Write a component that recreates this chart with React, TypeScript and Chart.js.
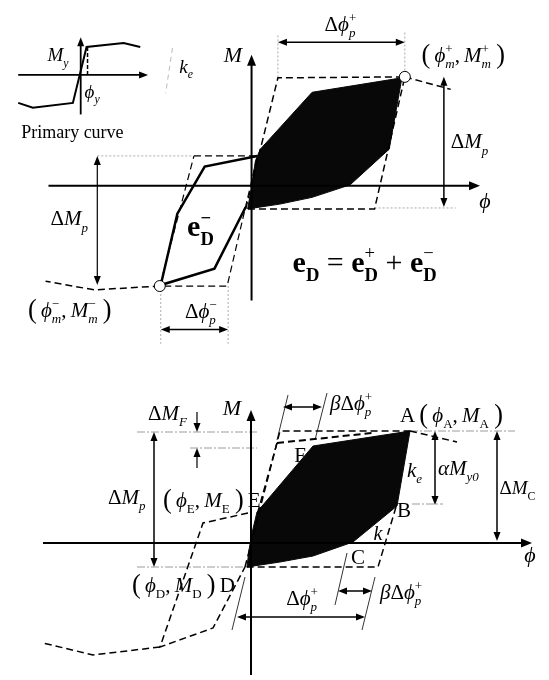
import React, { useEffect, useRef } from "react";
import { Chart, registerables } from "chart.js";
Chart.register(...registerables);

const FONT = '"Liberation Serif", "DejaVu Serif", serif';
type P = [number, number];

// shared horizontal range (phi units)
const X_MIN = -25.1;
const X_MAX = 29.8;

// ---------- TOP PANEL DATA ----------
const topLoopPositive: P[] = [[-0.4, -2.4], [-0.1, -0.7], [0.1, 0.6], [0.4, 2.6], [0.9, 3.8], [6.2, 9.7], [15.4, 11.2], [14.1, 3.8], [10.1, 0.1], [6.2, -1.2], [2.9, -1.9], [-0.4, -2.4]];
const topLoopNegative: P[] = [[0.6, 3.1], [-4.8, 2.0], [-7.6, -2.9], [-9.3, -10.3], [-3.8, -8.6], [-0.6, -2.2]];
const topPeakPoints: P[] = [[15.7, 11.3], [-9.4, -10.4]];
const topBoundPositive: P[] = [[-0.6, -2.4], [2.7, 11.2], [15.7, 11.3], [12.6, -2.4], [-0.6, -2.4]];
const topBoundNegative: P[] = [[-5.9, 3.1], [0.6, 3.1], [-2.5, -10.4], [-9.4, -10.4], [-5.9, 3.1]];
const topPrimaryRight: P[] = [[15.7, 11.3], [20.4, 10.0]];
const topPrimaryLeft: P[] = [[-9.4, -10.4], [-16.1, -10.8], [-21.1, -9.9]];
const topGuides: P[][] = [
  [[-15.8, 3.1], [-6.1, 3.1]],
  [[15.7, 15.9], [15.7, 11.3]],
  [[2.7, 15.6], [2.7, 11.2]],
  [[12.6, -2.3], [20.9, -2.3]],
  [[-9.3, -10.4], [-9.3, -16.4]],
  [[-2.4, -10.4], [-2.4, -16.4]],
];
const insetCurve: P[] = [[-23.9, 8.6], [-22.4, 8.1], [-18.3, 8.6], [-16.9, 14.4], [-13.1, 14.8], [-11.4, 14.4]];
const insetYield: P[] = [[-16.8, 14.4], [-16.8, 11.5]];
const insetKe: P[] = [[-8.1, 14.3], [-8.8, 9.6]];

// arrows: x1, y1, x2, y2, heads (1 end, 2 both), width
const topArrows: number[][] = [
  [-20.8, 0, 23.4, 0, 1, 2],
  [0, -11.9, 0, 13.6, 1, 2],
  [-23.9, 11.5, -10.6, 11.5, 1, 1.8],
  [-17.5, 7.4, -17.5, 15.4, 1, 1.8],
  [2.7, 14.9, 15.7, 14.9, 2, 1.5],
  [19.7, 11.3, 19.7, -2.2, 2, 1.5],
  [-15.8, 3.1, -15.8, -10.3, 2, 1.2],
  [-9.3, -14.9, -2.4, -14.9, 2, 1.5],
];

type Seg = [string, string];
type Label = { x: number; y: number; size: number; align: "left" | "center"; segs: Seg[] };

const topLabels: Label[] = [
  { x: -1.9, y: 13.6, size: 22, align: "center", segs: [["M", "i"]] },
  { x: 23.9, y: -1.6, size: 22, align: "center", segs: [["ϕ", "i"]] },
  { x: 9.1, y: 16.8, size: 21, align: "center", segs: [["Δ", "r"], ["ϕ", "i"], ["+", "r^|"], ["p", "i_"]] },
  { x: 17.4, y: 13.6, size: 21, align: "left", segs: [["(", "rL"], ["\u2009ϕ", "i"], ["+", "r^|"], ["m", "i_"], [",\u2009", "r"], ["M", "i"], ["+", "r^|"], ["m", "i_"], ["\u2009)", "rL"]] },
  { x: 20.4, y: 4.6, size: 21, align: "left", segs: [["Δ", "r"], ["M", "i"], ["p", "i_"]] },
  { x: -20.6, y: -3.4, size: 21, align: "left", segs: [["Δ", "r"], ["M", "i"], ["p", "i_"]] },
  { x: -22.9, y: -12.9, size: 21, align: "left", segs: [["(", "rL"], ["\u2009ϕ", "i"], ["−", "r^|"], ["m", "i_"], [",\u2009", "r"], ["M", "i"], ["−", "r^|"], ["m", "i_"], ["\u2009)", "rL"]] },
  { x: -5.2, y: -13.0, size: 21, align: "center", segs: [["Δ", "r"], ["ϕ", "i"], ["−", "r^|"], ["p", "i_"]] },
  { x: -6.6, y: -4.2, size: 30, align: "left", segs: [["e", "b"], ["−", "b^|"], ["D", "b_"]] },
  { x: 4.2, y: -7.9, size: 30, align: "left", segs: [["e", "b"], ["D", "b_"], [" = ", "r"], ["e", "b"], ["+", "r^|"], ["D", "b_"], [" + ", "r"], ["e", "b"], ["−", "r^|"], ["D", "b_"]] },
  { x: -20.9, y: 13.6, size: 19, align: "left", segs: [["M", "i"], ["y", "i_"]] },
  { x: -17.1, y: 9.8, size: 19, align: "left", segs: [["ϕ", "i"], ["y", "i_"]] },
  { x: -7.4, y: 12.4, size: 19, align: "left", segs: [["k", "i"], ["e", "i_"]] },
  { x: -23.6, y: 5.6, size: 18, align: "left", segs: [["Primary curve", "r"]] },
];

// ---------- BOTTOM PANEL DATA ----------
const botLoop: P[] = [[-0.4, -2.4], [-0.2, -0.7], [0.1, 1.0], [0.6, 3.1], [6.2, 9.7], [15.9, 11.2], [14.6, 3.7], [10.2, 0.1], [6.2, -1.3], [2.9, -1.9], [-0.4, -2.4]];
const botBoundUpper: P[] = [[-0.6, -2.4], [2.9, 11.2], [15.9, 11.2]];
const botBoundLower: P[] = [[14.5, 3.6], [12.7, -2.4], [-0.6, -2.4]];
const botReducedTop: P[] = [[2.6, 10.0], [12.1, 11.0]];
const botReducedSide: P[] = [[2.6, 10.0], [0.6, 2.8]];
const botNegative: P[] = [[-0.3, 3.0], [-4.8, 2.0], [-9.1, -10.4], [-3.8, -8.5], [-0.6, -2.4]];
const botPrimaryLeft: P[] = [[-9.1, -10.4], [-15.8, -11.2], [-20.8, -10.0]];
const botPrimaryRight: P[] = [[15.9, 11.2], [20.6, 10.1]];
const botGuides: P[][] = [
  [[-11.4, 11.1], [0.6, 11.1]],
  [[-6.1, 9.5], [0.6, 9.5]],
  [[15.9, 11.2], [26.4, 11.2]],
  [[16.1, 3.9], [19.2, 3.9]],
  [[-11.4, -2.4], [-0.6, -2.4]],
];
const botThin: P[][] = [
  [[3.7, 14.8], [2.6, 10.3]],
  [[7.6, 15.0], [6.4, 10.3]],
  [[9.6, -1.0], [8.4, -6.2]],
  [[12.4, -3.4], [11.1, -8.7]],
  [[-0.6, -3.4], [-1.9, -8.7]],
];
const botArrows: number[][] = [
  [-20.8, 0, 28.1, 0, 1, 2],
  [0, -13.2, 0, 13.3, 1, 2],
  [3.2, 13.6, 7.1, 13.6, 2, 1.5],
  [-5.4, 13.1, -5.4, 11.1, 1, 1.2],
  [-5.4, 7.5, -5.4, 9.5, 1, 1.2],
  [-9.7, 11.1, -9.7, -2.4, 2, 1.5],
  [18.4, 11.2, 18.4, 3.8, 2, 1.5],
  [24.6, 11.2, 24.6, 0.2, 2, 1.5],
  [-1.4, -7.4, 11.4, -7.4, 2, 1.5],
  [8.7, -4.8, 12.1, -4.8, 2, 1.5],
];
const botLabels: Label[] = [
  { x: -1.9, y: 13.5, size: 22, align: "center", segs: [["M", "i"]] },
  { x: 27.9, y: -1.2, size: 22, align: "center", segs: [["ϕ", "i"]] },
  { x: 7.9, y: 14.0, size: 21, align: "left", segs: [["β", "i"], ["Δ", "r"], ["ϕ", "i"], ["+", "r^|"], ["p", "i_"]] },
  { x: 14.9, y: 12.8, size: 21, align: "left", segs: [["A\u2009", "r"], ["(", "rL"], ["\u2009ϕ", "i"], ["A", "r_"], [",\u2009", "r"], ["M", "i"], ["A", "r_"], ["\u2009)", "rL"]] },
  { x: 4.9, y: 8.8, size: 21, align: "center", segs: [["F", "r"]] },
  { x: 15.6, y: 7.3, size: 21, align: "left", segs: [["k", "i"], ["e", "i_"]] },
  { x: 18.7, y: 7.5, size: 21, align: "left", segs: [["α", "i"], ["M", "i"], ["y0", "i_"]] },
  { x: 24.85, y: 5.5, size: 19, align: "left", segs: [["Δ", "r"], ["M", "i"], ["C", "r_"]] },
  { x: 15.3, y: 3.3, size: 21, align: "center", segs: [["B", "r"]] },
  { x: 12.7, y: 1.0, size: 20, align: "center", segs: [["k", "i"]] },
  { x: 10.7, y: -1.4, size: 21, align: "center", segs: [["C", "r"]] },
  { x: 12.9, y: -4.9, size: 21, align: "left", segs: [["β", "i"], ["Δ", "r"], ["ϕ", "i"], ["+", "r^|"], ["p", "i_"]] },
  { x: 5.1, y: -5.5, size: 21, align: "center", segs: [["Δ", "r"], ["ϕ", "i"], ["+", "r^|"], ["p", "i_"]] },
  { x: -11.9, y: -4.2, size: 21, align: "left", segs: [["(", "rL"], ["\u2009ϕ", "i"], ["D", "r_"], [",\u2009", "r"], ["M", "i"], ["D", "r_"], ["\u2009)", "rL"], ["\u2009D", "r"]] },
  { x: -8.8, y: 4.3, size: 21, align: "left", segs: [["(", "rL"], ["\u2009ϕ", "i"], ["E", "r_"], [",\u2009", "r"], ["M", "i"], ["E", "r_"], ["\u2009)", "rL"], ["\u2009E", "r"]] },
  { x: -14.3, y: 4.6, size: 21, align: "left", segs: [["Δ", "r"], ["M", "i"], ["p", "i_"]] },
  { x: -10.3, y: 13.0, size: 21, align: "left", segs: [["Δ", "r"], ["M", "i"], ["F", "i_"]] },
];

// ---------- helpers ----------
const pts = (a: P[]) => a.map(([x, y]) => ({ x, y }));
const DASH = [7, 4];
const line = (a: P[], o: any = {}) => ({
  data: pts(a),
  showLine: true,
  pointRadius: 0,
  borderColor: "#000",
  borderWidth: 1.5,
  tension: 0,
  fill: false,
  ...o,
});

function drawRich(ctx: CanvasRenderingContext2D, segs: Seg[], x: number, y: number, size: number, align: string) {
  const items = segs.map(([t, s]) => {
    const f = s[0];
    const sub = s.includes("_"), sup = s.includes("^"), stack = s.includes("|"), big = s.includes("L");
    const sz = sub || sup ? size * 0.62 : big ? size * 1.25 : size;
    const font = `${f === "i" ? "italic " : ""}${f === "b" ? "bold " : ""}${sz}px ${FONT}`;
    ctx.font = font;
    const w = ctx.measureText(t).width;
    const dy = sub ? size * 0.3 : sup ? -size * 0.42 : big ? size * 0.06 : 0;
    return { t, font, w, dy, stack };
  });
  let total = 0;
  for (let i = 0; i < items.length; i++) {
    if (items[i].stack && i + 1 < items.length) {
      total += Math.max(items[i].w, items[i + 1].w);
      i++;
    } else total += items[i].w;
  }
  let cx = align === "center" ? x - total / 2 : x;
  const base = y + size * 0.33;
  ctx.textBaseline = "alphabetic";
  ctx.textAlign = "left";
  ctx.fillStyle = "#000";
  for (let i = 0; i < items.length; i++) {
    const it = items[i];
    if (it.stack && i + 1 < items.length) {
      const nx = items[i + 1];
      ctx.font = it.font;
      ctx.fillText(it.t, cx, base + it.dy);
      ctx.font = nx.font;
      ctx.fillText(nx.t, cx, base + nx.dy);
      cx += Math.max(it.w, nx.w);
      i++;
    } else {
      ctx.font = it.font;
      ctx.fillText(it.t, cx, base + it.dy);
      cx += it.w;
    }
  }
}

function head(ctx: CanvasRenderingContext2D, x: number, y: number, ang: number, len: number, hw: number) {
  ctx.beginPath();
  ctx.moveTo(x, y);
  ctx.lineTo(x - len * Math.cos(ang) + hw * Math.sin(ang), y - len * Math.sin(ang) - hw * Math.cos(ang));
  ctx.lineTo(x - len * Math.cos(ang) - hw * Math.sin(ang), y - len * Math.sin(ang) + hw * Math.cos(ang));
  ctx.closePath();
  ctx.fill();
}

const overlay = (arrows: number[][], labels: Label[]) => ({
  id: "overlay",
  afterDatasetsDraw(chart: any) {
    const { ctx, scales } = chart;
    const X = (v: number) => scales.x.getPixelForValue(v);
    const Y = (v: number) => scales.y.getPixelForValue(v);
    ctx.save();
    ctx.strokeStyle = "#000";
    ctx.fillStyle = "#000";
    for (const [x1, y1, x2, y2, h, w] of arrows) {
      const px1 = X(x1), py1 = Y(y1), px2 = X(x2), py2 = Y(y2);
      const ang = Math.atan2(py2 - py1, px2 - px1);
      const len = w >= 2 ? 11 : 9;
      const hw = w >= 2 ? 4.5 : 3.5;
      ctx.lineWidth = w;
      ctx.setLineDash([]);
      ctx.beginPath();
      ctx.moveTo(px1 + (h === 2 ? Math.cos(ang) * len * 0.8 : 0), py1 + (h === 2 ? Math.sin(ang) * len * 0.8 : 0));
      ctx.lineTo(px2 - Math.cos(ang) * len * 0.8, py2 - Math.sin(ang) * len * 0.8);
      ctx.stroke();
      head(ctx, px2, py2, ang, len, hw);
      if (h === 2) head(ctx, px1, py1, ang + Math.PI, len, hw);
    }
    for (const l of labels) drawRich(ctx, l.segs, X(l.x), Y(l.y), l.size, l.align);
    ctx.restore();
  },
});

function Panel(props: { height: number; yMin: number; yMax: number; datasets: any[]; arrows: number[][]; labels: Label[] }) {
  const ref = useRef<HTMLCanvasElement>(null);
  useEffect(() => {
    const chart = new Chart(ref.current as HTMLCanvasElement, {
      type: "scatter",
      data: { datasets: props.datasets },
      options: {
        animation: false,
        responsive: false,
        events: [],
        layout: { padding: 0 },
        scales: {
          x: { type: "linear", min: X_MIN, max: X_MAX, display: false },
          y: { type: "linear", min: props.yMin, max: props.yMax, display: false },
        },
        plugins: { legend: { display: false }, tooltip: { enabled: false } },
      } as any,
      plugins: [overlay(props.arrows, props.labels)],
    });
    return () => chart.destroy();
  }, []);
  return <canvas ref={ref} width={549} height={props.height} style={{ display: "block" }} />;
}

const GUIDE = { borderColor: "#9c9c9c", borderWidth: 1, borderDash: [8, 2, 2, 2] };

export default function App() {
  useEffect(() => {
    document.body.style.margin = "0";
    document.body.style.background = "#fff";
  }, []);
  const topDatasets = [
    { data: pts(topPeakPoints), showLine: false, pointRadius: 5.5, pointBackgroundColor: "#fff", pointBorderColor: "#000", pointBorderWidth: 1 },
    line(topLoopNegative, { borderWidth: 2.5 }),
    line(insetCurve, { borderWidth: 2 }),
    line(insetYield, { borderDash: [4, 2], borderWidth: 1.5 }),
    line(insetKe, { borderDash: [5, 4], borderWidth: 1, borderColor: "#bbb" }),
    line(topPrimaryRight, { borderDash: DASH }),
    line(topPrimaryLeft, { borderDash: DASH }),
    line(topBoundPositive, { borderDash: DASH }),
    line(topBoundNegative, { borderDash: DASH, borderWidth: 1.2 }),
    ...topGuides.map((g) => line(g, { borderColor: "#aaa", borderWidth: 1, borderDash: [2, 2] })),
    line(topLoopPositive, { fill: "shape", backgroundColor: "#080808", borderColor: "#080808", borderWidth: 1 }),
  ];
  const botDatasets = [
    line(botBoundUpper, { borderDash: DASH }),
    line(botBoundLower, { borderDash: DASH }),
    line(botReducedTop, { borderDash: DASH, borderWidth: 2 }),
    line(botReducedSide, { borderDash: DASH }),
    line(botNegative, { borderDash: DASH }),
    line(botPrimaryLeft, { borderDash: DASH }),
    line(botPrimaryRight, { borderDash: DASH }),
    ...botThin.map((g) => line(g, { borderWidth: 0.8 })),
    ...botGuides.map((g) => line(g, GUIDE)),
    line(botLoop, { fill: "shape", backgroundColor: "#080808", borderColor: "#080808", borderWidth: 1 }),
  ];
  return (
    <div>
      <Panel height={360} yMin={-17.4} yMax={18.6} datasets={topDatasets} arrows={topArrows} labels={topLabels} />
      <Panel height={320} yMin={-13.7} yMax={18.3} datasets={botDatasets} arrows={botArrows} labels={botLabels} />
    </div>
  );
}
